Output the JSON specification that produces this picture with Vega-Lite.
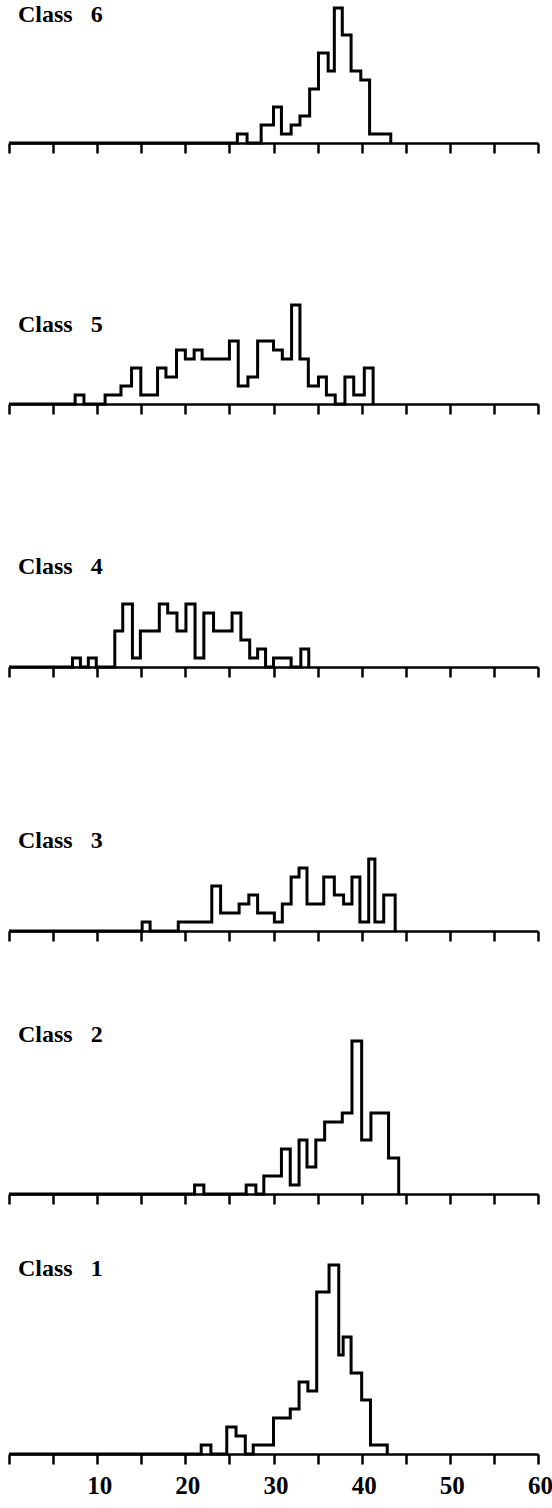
{
  "$schema": "https://vega.github.io/schema/vega-lite/v6.json",
  "padding": {"left": 3, "top": 0, "right": 0, "bottom": 0},
  "background": "white",
  "bounds": "flush",
  "spacing": 0,
  "config": {
    "view": {"stroke": null},
    "title": {"font": "Liberation Serif", "fontWeight": "bold", "fontSize": 24, "color": "black", "anchor": "start", "frame": "group", "baseline": "alphabetic", "dx": 9},
    "axis": {"domainColor": "black", "domainWidth": 2.7, "tickColor": "black", "tickWidth": 2.5, "tickSize": 10, "grid": false, "title": null, "labelFlush": false, "labelOverlap": false},
    "line": {"color": "black", "strokeWidth": 3, "strokeJoin": "miter", "interpolate": "step-after"}
  },
  "data": {"values": [
    {"cls": 6, "x": 0, "count": 0}, {"cls": 6, "x": 25.9, "count": 1}, {"cls": 6, "x": 27.0, "count": 0}, {"cls": 6, "x": 28.6, "count": 2}, {"cls": 6, "x": 30.0, "count": 4}, {"cls": 6, "x": 30.9, "count": 1}, {"cls": 6, "x": 32.0, "count": 2}, {"cls": 6, "x": 33.0, "count": 3}, {"cls": 6, "x": 34.1, "count": 6}, {"cls": 6, "x": 35.1, "count": 10}, {"cls": 6, "x": 36.2, "count": 8}, {"cls": 6, "x": 36.9, "count": 15}, {"cls": 6, "x": 37.8, "count": 12}, {"cls": 6, "x": 38.8, "count": 8}, {"cls": 6, "x": 39.9, "count": 7}, {"cls": 6, "x": 40.9, "count": 1}, {"cls": 6, "x": 43.3, "count": 0},
    {"cls": 5, "x": 0, "count": 0}, {"cls": 5, "x": 7.5, "count": 1}, {"cls": 5, "x": 8.5, "count": 0}, {"cls": 5, "x": 10.9, "count": 1}, {"cls": 5, "x": 12.7, "count": 2}, {"cls": 5, "x": 13.9, "count": 4}, {"cls": 5, "x": 14.95, "count": 1}, {"cls": 5, "x": 16.85, "count": 4}, {"cls": 5, "x": 17.8, "count": 3}, {"cls": 5, "x": 19.0, "count": 6}, {"cls": 5, "x": 20.0, "count": 5}, {"cls": 5, "x": 21.0, "count": 6}, {"cls": 5, "x": 21.9, "count": 5}, {"cls": 5, "x": 25.0, "count": 7}, {"cls": 5, "x": 26.0, "count": 2}, {"cls": 5, "x": 27.1, "count": 3}, {"cls": 5, "x": 28.2, "count": 7}, {"cls": 5, "x": 30.0, "count": 6}, {"cls": 5, "x": 31.0, "count": 5}, {"cls": 5, "x": 32.05, "count": 11}, {"cls": 5, "x": 33.0, "count": 5}, {"cls": 5, "x": 33.95, "count": 2}, {"cls": 5, "x": 35.1, "count": 3}, {"cls": 5, "x": 36.0, "count": 1}, {"cls": 5, "x": 37.0, "count": 0}, {"cls": 5, "x": 38.1, "count": 3}, {"cls": 5, "x": 39.1, "count": 1}, {"cls": 5, "x": 40.3, "count": 4}, {"cls": 5, "x": 41.3, "count": 0},
    {"cls": 4, "x": 0, "count": 0}, {"cls": 4, "x": 7.2, "count": 1}, {"cls": 4, "x": 8.1, "count": 0}, {"cls": 4, "x": 9.0, "count": 1}, {"cls": 4, "x": 9.9, "count": 0}, {"cls": 4, "x": 12.0, "count": 4}, {"cls": 4, "x": 12.9, "count": 7}, {"cls": 4, "x": 14.0, "count": 1}, {"cls": 4, "x": 14.9, "count": 4}, {"cls": 4, "x": 17.05, "count": 7}, {"cls": 4, "x": 18.0, "count": 6}, {"cls": 4, "x": 19.05, "count": 4}, {"cls": 4, "x": 20.07, "count": 7}, {"cls": 4, "x": 21.1, "count": 1}, {"cls": 4, "x": 22.1, "count": 6}, {"cls": 4, "x": 23.2, "count": 4}, {"cls": 4, "x": 25.3, "count": 6}, {"cls": 4, "x": 26.3, "count": 3}, {"cls": 4, "x": 27.3, "count": 1}, {"cls": 4, "x": 28.2, "count": 2}, {"cls": 4, "x": 29.1, "count": 0}, {"cls": 4, "x": 30.0, "count": 1}, {"cls": 4, "x": 32.0, "count": 0}, {"cls": 4, "x": 33.1, "count": 2}, {"cls": 4, "x": 34.0, "count": 0},
    {"cls": 3, "x": 0, "count": 0}, {"cls": 3, "x": 15.1, "count": 1}, {"cls": 3, "x": 16.0, "count": 0}, {"cls": 3, "x": 19.2, "count": 1}, {"cls": 3, "x": 23.0, "count": 5}, {"cls": 3, "x": 24.0, "count": 2}, {"cls": 3, "x": 26.1, "count": 3}, {"cls": 3, "x": 27.2, "count": 4}, {"cls": 3, "x": 28.2, "count": 2}, {"cls": 3, "x": 30.1, "count": 1}, {"cls": 3, "x": 31.0, "count": 3}, {"cls": 3, "x": 32.0, "count": 6}, {"cls": 3, "x": 32.9, "count": 7}, {"cls": 3, "x": 33.8, "count": 3}, {"cls": 3, "x": 35.7, "count": 6}, {"cls": 3, "x": 36.9, "count": 4}, {"cls": 3, "x": 37.95, "count": 3}, {"cls": 3, "x": 38.9, "count": 6}, {"cls": 3, "x": 39.8, "count": 1}, {"cls": 3, "x": 40.8, "count": 8}, {"cls": 3, "x": 41.5, "count": 1}, {"cls": 3, "x": 42.5, "count": 4}, {"cls": 3, "x": 43.8, "count": 0},
    {"cls": 2, "x": 0, "count": 0}, {"cls": 2, "x": 21.05, "count": 1}, {"cls": 2, "x": 22.1, "count": 0}, {"cls": 2, "x": 26.9, "count": 1}, {"cls": 2, "x": 28.0, "count": 0}, {"cls": 2, "x": 28.9, "count": 2}, {"cls": 2, "x": 30.9, "count": 5}, {"cls": 2, "x": 31.9, "count": 1}, {"cls": 2, "x": 32.9, "count": 6}, {"cls": 2, "x": 33.8, "count": 3}, {"cls": 2, "x": 34.8, "count": 6}, {"cls": 2, "x": 35.8, "count": 8}, {"cls": 2, "x": 37.8, "count": 9}, {"cls": 2, "x": 38.9, "count": 17}, {"cls": 2, "x": 40.0, "count": 6}, {"cls": 2, "x": 41.05, "count": 9}, {"cls": 2, "x": 43.05, "count": 4}, {"cls": 2, "x": 44.2, "count": 0},
    {"cls": 1, "x": 0, "count": 0}, {"cls": 1, "x": 21.8, "count": 1}, {"cls": 1, "x": 22.9, "count": 0}, {"cls": 1, "x": 24.7, "count": 3}, {"cls": 1, "x": 25.75, "count": 2}, {"cls": 1, "x": 26.8, "count": 0}, {"cls": 1, "x": 27.7, "count": 1}, {"cls": 1, "x": 30.0, "count": 4}, {"cls": 1, "x": 31.9, "count": 5}, {"cls": 1, "x": 32.9, "count": 8}, {"cls": 1, "x": 33.9, "count": 7}, {"cls": 1, "x": 34.9, "count": 18}, {"cls": 1, "x": 36.3, "count": 21}, {"cls": 1, "x": 37.4, "count": 11}, {"cls": 1, "x": 37.9, "count": 13}, {"cls": 1, "x": 38.8, "count": 9}, {"cls": 1, "x": 40.0, "count": 6}, {"cls": 1, "x": 41.0, "count": 1}, {"cls": 1, "x": 42.9, "count": 0}
  ]},
  "vconcat": [
    {
      "width": 529, "height": 143,
      "title": {"text": "Class\u00a0\u00a0\u00a06", "offset": -27},
      "transform": [{"filter": "datum.cls === 6"}],
      "mark": {"type": "line"},
      "encoding": {
        "x": {"field": "x", "type": "quantitative", "scale": {"domain": [0, 60], "nice": false, "zero": false}, "axis": {"values": [0, 5, 10, 15, 20, 25, 30, 35, 40, 45, 50, 55, 60], "labels": false}},
        "y": {"field": "count", "type": "quantitative", "scale": {"domain": [0, 15.889], "nice": false}, "axis": null}
      }
    },
    {
      "width": 529, "height": 261,
      "title": {"text": "Class\u00a0\u00a0\u00a05", "offset": -194},
      "transform": [{"filter": "datum.cls === 5"}],
      "mark": {"type": "line"},
      "encoding": {
        "x": {"field": "x", "type": "quantitative", "scale": {"domain": [0, 60], "nice": false, "zero": false}, "axis": {"values": [0, 5, 10, 15, 20, 25, 30, 35, 40, 45, 50, 55, 60], "labels": false}},
        "y": {"field": "count", "type": "quantitative", "scale": {"domain": [0, 29.0], "nice": false}, "axis": null}
      }
    },
    {
      "width": 529, "height": 263,
      "title": {"text": "Class\u00a0\u00a0\u00a04", "offset": -175},
      "transform": [{"filter": "datum.cls === 4"}],
      "mark": {"type": "line"},
      "encoding": {
        "x": {"field": "x", "type": "quantitative", "scale": {"domain": [0, 60], "nice": false, "zero": false}, "axis": {"values": [0, 5, 10, 15, 20, 25, 30, 35, 40, 45, 50, 55, 60], "labels": false}},
        "y": {"field": "count", "type": "quantitative", "scale": {"domain": [0, 29.222], "nice": false}, "axis": null}
      }
    },
    {
      "width": 529, "height": 264,
      "title": {"text": "Class\u00a0\u00a0\u00a03", "offset": -186},
      "transform": [{"filter": "datum.cls === 3"}],
      "mark": {"type": "line"},
      "encoding": {
        "x": {"field": "x", "type": "quantitative", "scale": {"domain": [0, 60], "nice": false, "zero": false}, "axis": {"values": [0, 5, 10, 15, 20, 25, 30, 35, 40, 45, 50, 55, 60], "labels": false}},
        "y": {"field": "count", "type": "quantitative", "scale": {"domain": [0, 29.333], "nice": false}, "axis": null}
      }
    },
    {
      "width": 529, "height": 263,
      "title": {"text": "Class\u00a0\u00a0\u00a02", "offset": -116},
      "transform": [{"filter": "datum.cls === 2"}],
      "mark": {"type": "line"},
      "encoding": {
        "x": {"field": "x", "type": "quantitative", "scale": {"domain": [0, 60], "nice": false, "zero": false}, "axis": {"values": [0, 5, 10, 15, 20, 25, 30, 35, 40, 45, 50, 55, 60], "labels": false}},
        "y": {"field": "count", "type": "quantitative", "scale": {"domain": [0, 29.222], "nice": false}, "axis": null}
      }
    },
    {
      "width": 529, "height": 260,
      "title": {"text": "Class\u00a0\u00a0\u00a01", "offset": -87},
      "transform": [{"filter": "datum.cls === 1"}],
      "mark": {"type": "line"},
      "encoding": {
        "x": {"field": "x", "type": "quantitative", "scale": {"domain": [0, 60], "nice": false, "zero": false}, "axis": {"values": [0, 5, 10, 15, 20, 25, 30, 35, 40, 45, 50, 55, 60], "labels": true, "labelExpr": "datum.value % 10 === 0 && datum.value > 0 ? datum.label : ''", "labelFont": "Liberation Serif", "labelFontWeight": "bold", "labelFontSize": 25, "labelColor": "black", "labelPadding": 9, "labelOffset": 2}},
        "y": {"field": "count", "type": "quantitative", "scale": {"domain": [0, 28.889], "nice": false}, "axis": null}
      }
    }
  ]
}
